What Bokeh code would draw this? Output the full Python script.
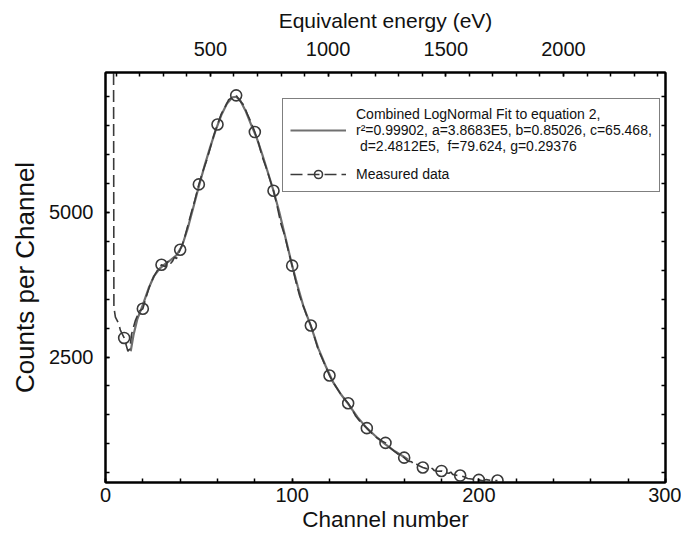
from bokeh.plotting import figure
from bokeh.models import LinearAxis, Range1d, FixedTicker, Legend, LegendItem
from bokeh.embed import file_html
from bokeh.resources import INLINE

# ---- data ----
# measured data: markers every 10 channels
marker_channel = [10, 20, 30, 40, 50, 60, 70, 80, 90, 100, 110, 120, 130, 140,
                  150, 160, 170, 180, 190, 200, 210]
marker_counts = [2830, 3335, 4095, 4355, 5485, 6520, 7025, 6390, 5375, 4080, 3045,
                 2180, 1700, 1270, 1015, 760, 590, 530, 450, 375, 365]

# measured data: full trace (dashed)
meas_channel = [4.3, 4.5, 5.3, 7.1, 8.0, 10, 12, 13, 14, 16, 18, 20, 22, 24, 26, 28,
                30, 32, 33, 34, 35, 36, 37, 38, 40, 42, 44, 46, 48, 50, 52, 54, 56,
                58, 60, 62, 64, 66, 68, 70, 72, 74, 76, 78, 80, 82, 84, 86, 88, 90,
                92, 94, 96, 98, 100, 102, 104, 106, 108, 110, 112, 114, 116, 118,
                120, 122, 124, 126, 128, 130, 132, 134, 136, 138, 140, 142, 144, 146,
                148, 150, 152, 154, 156, 158, 160, 162, 164, 165, 166, 168, 170, 172,
                174, 175, 176, 178, 180, 182, 184, 185, 186, 188, 190, 192, 194, 196,
                198, 200, 202, 204, 206, 208, 210]
meas_counts = [8000, 3360, 3190, 3075, 2960, 2830, 2600, 2640, 2900, 3130, 3290, 3335,
               3560, 3760, 3900, 4010, 4095, 4060, 4130, 4180, 4120, 4160, 4230, 4200,
               4355, 4520, 4760, 5000, 5230, 5485, 5700, 5880, 6100, 6330, 6520, 6700,
               6820, 6950, 6990, 7025, 6930, 6860, 6700, 6560, 6390, 6200, 5960, 5780,
               5580, 5375, 5100, 4800, 4600, 4330, 4080, 3800, 3560, 3380, 3200, 3045,
               2840, 2620, 2480, 2330, 2180, 2060, 1960, 1860, 1780, 1700, 1600, 1480,
               1400, 1330, 1270, 1200, 1140, 1090, 1050, 1015, 940, 890, 840, 790, 760,
               700, 690, 640, 660, 620, 590, 570, 545, 575, 540, 525, 530, 500, 490,
               510, 470, 455, 450, 430, 400, 390, 380, 375, 360, 380, 370, 360, 365]

# combined log-normal fit (smooth curve)
fit_channel = [13.5, 15, 17, 20, 23, 26, 29, 32, 35, 38, 41, 44, 47, 50, 53, 56, 59,
               62, 65, 68, 70, 72, 75, 78, 81, 84, 87, 90, 93, 96, 100, 103, 106, 110,
               114, 118, 122, 126, 130, 135, 140, 145, 150, 155, 160, 162]
fit_counts = [2600, 2880, 3150, 3400, 3680, 3900, 4030, 4110, 4180, 4260, 4420, 4720,
              5080, 5450, 5800, 6120, 6420, 6680, 6880, 6990, 7000, 6950, 6760, 6520,
              6290, 6000, 5690, 5375, 5020, 4620, 4080, 3720, 3380, 3040, 2650, 2340,
              2060, 1860, 1690, 1460, 1270, 1120, 990, 870, 770, 730]

# axes
x_ticks = [0, 100, 200, 300]
x_minor = list(range(0, 301, 20))
y_ticks = [2500, 5000]
y_minor = list(range(500, 7500, 500))
energy_ticks = [500, 1000, 1500, 2000]
energy_minor = list(range(100, 2500, 100))
energy_at_ch0 = 54.3
energy_at_ch300 = 2433.3

fit_label = ("Combined LogNormal Fit to equation 2,\n"
             "r\u00b2=0.99902, a=3.8683E5, b=0.85026, c=65.468,\n"
             " d=2.4812E5,  f=79.624, g=0.29376")
data_label = "Measured data"

FONT = "Liberation Sans"

p = figure(width=681, height=537, output_backend="svg", toolbar_location=None,
           title=None, x_range=Range1d(0, 300), y_range=Range1d(330, 7420),
           x_axis_label="Channel number", y_axis_label="Counts per Channel",
           min_border_left=105, min_border_right=16, min_border_top=72,
           min_border_bottom=55)
p.xgrid.visible = False
p.ygrid.visible = False
p.outline_line_color = "black"
p.outline_line_width = 2
p.background_fill_color = "white"
p.border_fill_color = "white"

bottom_axis = p.below[0]
left_axis = p.left[0]
bottom_axis.ticker = FixedTicker(ticks=x_ticks, minor_ticks=x_minor)
left_axis.ticker = FixedTicker(ticks=y_ticks, minor_ticks=y_minor)

p.extra_x_ranges = {"energy": Range1d(energy_at_ch0, energy_at_ch300)}
top_axis = LinearAxis(x_range_name="energy", axis_label="Equivalent energy (eV)",
                      ticker=FixedTicker(ticks=energy_ticks, minor_ticks=energy_minor))
p.add_layout(top_axis, "above")
right_axis = LinearAxis(ticker=FixedTicker(ticks=[], minor_ticks=y_minor))
p.add_layout(right_axis, "right")

for ax in [bottom_axis, left_axis, top_axis, right_axis]:
    ax.axis_line_color = "black"
    ax.axis_line_width = 2
    ax.major_tick_in = 4
    ax.major_tick_out = 0
    ax.minor_tick_in = 4
    ax.minor_tick_out = 0
    ax.major_tick_line_color = "black"
    ax.minor_tick_line_color = "black"
    ax.major_tick_line_width = 1.5
    ax.minor_tick_line_width = 1.5
    ax.major_label_text_font = FONT
    ax.major_label_text_color = "#111111"
    ax.major_label_text_font_size = "20px"
    ax.axis_label_text_font = FONT
    ax.axis_label_text_font_style = "normal"
    ax.axis_label_text_color = "#111111"
    ax.axis_label_text_font_size = "21px"
    ax.major_label_standoff = 6
    ax.axis_label_standoff = 8

bottom_axis.axis_label_text_font_size = "22.5px"
bottom_axis.major_label_standoff = 5
bottom_axis.axis_label_standoff = 2
left_axis.axis_label_text_font_size = "26px"
left_axis.major_label_standoff = 12
left_axis.axis_label_standoff = 6
top_axis.major_label_standoff = 17
top_axis.axis_label_standoff = 7

fit_r = p.line(fit_channel, fit_counts, line_color="#707070", line_width=2.2)
data_line = p.line(meas_channel, meas_counts, line_color="#3a3a3a", line_width=1.6,
                   line_dash="12 5")
data_pts = p.scatter(marker_channel, marker_counts, marker="circle", size=11,
                     fill_color=None, line_color="#3a3a3a", line_width=1.6)

legend = Legend(items=[LegendItem(label=fit_label, renderers=[fit_r]),
                       LegendItem(label=data_label, renderers=[data_line, data_pts])],
                location=(177, 290))
legend.border_line_color = "black"
legend.border_line_width = 1.5
legend.background_fill_color = "white"
legend.background_fill_alpha = 1
legend.label_text_font = FONT
legend.label_text_font_size = "14px"
legend.label_text_color = "#111111"
legend.glyph_width = 56
legend.label_standoff = 10
legend.padding = 7
legend.spacing = 10
legend.margin = 0
p.add_layout(legend, "center")

open("out.html", "w").write(file_html(p, INLINE))
